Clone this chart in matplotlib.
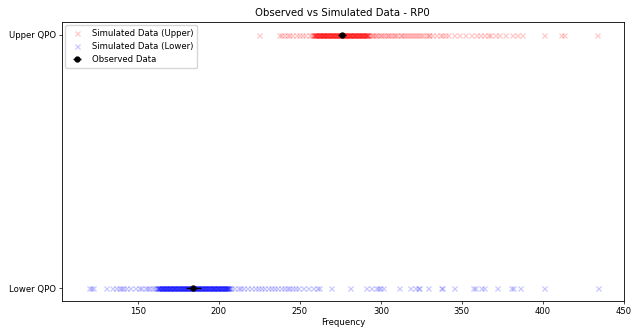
import matplotlib
matplotlib.use('Agg')
import matplotlib.pyplot as plt

plt.rcParams['font.size'] = 6.1
plt.rcParams['axes.linewidth'] = 0.6
plt.rcParams['xtick.major.size'] = 2.2
plt.rcParams['ytick.major.size'] = 2.2
plt.rcParams['xtick.major.width'] = 0.5
plt.rcParams['ytick.major.width'] = 0.5
plt.rcParams['xtick.major.pad'] = 2.0
plt.rcParams['ytick.major.pad'] = 2.2

# simulated frequencies, upper QPO
upper_sim = [
    224.4, 237.0, 238.5, 240.2, 241.8, 243.5, 245.0, 247.6, 249.6, 251.0,
    253.2, 255.7, 256.8, 257.9,
    258.5, 259.0, 259.5, 260.0, 260.5, 261.0, 261.5, 262.0, 262.5, 263.0,
    263.5, 264.0, 264.5, 265.0, 265.5, 266.0, 266.5, 267.0, 267.5, 268.0,
    268.5, 269.0, 269.5, 270.0, 270.5, 271.0, 271.5, 272.0, 272.5, 273.0,
    273.5, 274.0, 274.5, 275.0, 275.5, 276.0, 276.5, 277.0, 277.5, 278.0,
    278.5, 279.0, 279.5, 280.0, 280.5, 281.0, 281.5, 282.0, 282.5, 283.0,
    283.5, 284.0, 284.5, 285.0, 285.5, 286.0, 286.5, 287.0, 287.5, 288.0,
    288.5, 289.0, 289.5, 290.0, 290.5, 291.0, 291.5, 292.0,
    258.7, 259.8, 260.9, 262.1, 263.2, 264.4, 265.7, 266.8, 268.1, 269.3,
    270.6, 271.8, 273.1, 274.3, 275.6, 276.8, 278.1, 279.3, 280.6, 281.8,
    283.1, 284.3, 285.6, 286.8, 288.1, 289.3, 290.6, 291.4,
    258.3, 259.2, 260.2, 261.3, 262.3, 263.4, 264.2, 265.2, 266.3, 267.3,
    268.3, 269.2, 270.3, 271.2, 272.3, 273.3, 274.2, 275.3, 276.3, 277.3,
    278.3, 279.2, 280.3, 281.2, 282.3, 283.3, 284.2, 285.3, 286.2, 287.3,
    288.3, 289.2, 290.3, 291.2,
    292.8, 293.6, 294.5, 295.4, 296.3, 297.1, 298.0, 299.2, 300.1, 301.0,
    302.3, 303.5, 304.6, 305.4, 306.7, 307.9, 309.0, 310.2, 311.5, 312.6,
    313.8, 315.1, 316.3, 317.4, 318.6, 319.9, 321.2, 322.5, 323.7, 325.0,
    326.3, 327.6, 328.9, 329.8,
    331.5, 334.0, 336.2, 337.8, 339.5, 341.6, 345.0, 348.3, 352.0, 355.6,
    359.0, 361.2, 363.5, 366.0, 367.4, 370.2, 373.0, 376.5, 381.0, 384.0,
    387.0, 401.0, 411.0, 413.0, 433.5,
]

# simulated frequencies, lower QPO
lower_sim = [
    119.5, 121.0, 122.4, 130.5, 134.0, 136.5, 138.0, 139.5, 141.0, 142.5,
    145.0, 148.0, 150.5, 152.0, 154.0, 155.5, 157.0, 158.5, 160.0, 161.0,
    162.0, 162.5, 163.0, 163.5, 164.0, 164.5, 165.0, 165.5, 166.0, 166.5,
    167.0, 167.5, 168.0, 168.5, 169.0, 169.5, 170.0, 170.5, 171.0, 171.5,
    172.0, 172.5, 173.0, 173.5, 174.0, 174.5, 175.0, 175.5, 176.0, 176.5,
    177.0, 177.5, 178.0, 178.5, 179.0, 179.5, 180.0, 180.5, 181.0, 181.5,
    182.0, 182.5, 183.0, 183.5, 184.0, 184.5, 185.0, 185.5, 186.0, 186.5,
    187.0, 187.5, 188.0, 188.5, 189.0, 189.5, 190.0, 190.5, 191.0, 191.5,
    192.0, 192.5, 193.0, 193.5, 194.0, 194.5, 195.0, 195.5, 196.0, 196.5,
    197.0, 197.5, 198.0, 198.5, 199.0, 199.5, 200.0, 200.5, 201.0, 201.5,
    202.0, 202.5, 203.0, 203.5, 204.0, 204.5, 205.0, 205.5, 206.0,
    162.3, 163.6, 164.8, 166.1, 167.3, 168.6, 169.8, 171.1, 172.3, 173.6,
    174.8, 176.1, 177.3, 178.6, 179.8, 181.1, 182.3, 183.6, 184.8, 186.1,
    187.3, 188.6, 189.8, 191.1, 192.3, 193.6, 194.8, 196.1, 197.3, 198.6,
    199.8, 201.1, 202.3, 203.6, 204.8, 205.7,
    162.2, 163.2, 164.2, 165.3, 166.3, 167.2, 168.3, 169.3, 170.2, 171.3,
    172.2, 173.3, 174.3, 175.2, 176.3, 177.2, 178.3, 179.3, 180.2, 181.3,
    182.2, 183.3, 184.3, 185.2, 186.3, 187.2, 188.3, 189.3, 190.2, 191.3,
    192.2, 193.3, 194.3, 195.2, 196.3, 197.2, 198.3, 199.3, 200.2, 201.3,
    202.2, 203.3, 204.3, 205.2, 206.3,
    207.5, 209.0, 211.5, 213.0, 215.0, 217.0, 219.5, 222.0, 224.0, 226.0,
    228.0, 230.0, 232.0, 234.0, 236.0, 238.0, 240.0, 242.0, 243.5, 245.0,
    247.0, 249.0, 252.0, 255.0, 258.0, 260.5, 261.5,
    269.0, 281.0, 291.0, 294.0, 297.0, 298.5, 299.5, 301.0, 311.0, 318.0,
    321.0, 323.0, 323.5, 329.0, 337.0, 338.0, 345.0, 357.0, 358.0, 362.0,
    363.5, 372.0, 380.5, 381.5, 386.0, 401.0, 434.0,
]

# observed values and errors
obs_freq = [184.2, 275.8]
obs_err = [4.6, 2.5]
obs_level = [0, 1]

qpo_labels = ['Lower QPO', 'Upper QPO']

fig, ax = plt.subplots(figsize=(6.32, 3.27), dpi=100)
fig.subplots_adjust(left=0.098, right=0.987, top=0.933, bottom=0.08)

ax.plot(upper_sim, [1] * len(upper_sim), 'x', color='red', alpha=0.22,
        markersize=3.6, markeredgewidth=0.9, label='Simulated Data (Upper)')
ax.plot(lower_sim, [0] * len(lower_sim), 'x', color='blue', alpha=0.22,
        markersize=3.6, markeredgewidth=0.9, label='Simulated Data (Lower)')
ax.errorbar(obs_freq, obs_level, xerr=obs_err, fmt='o', color='black',
            markersize=3.5, elinewidth=1.0, label='Observed Data')

ax.set_yticks([0, 1])
ax.set_yticklabels(qpo_labels)
ax.set_xlim(103, 450)
ax.set_ylim(-0.05, 1.05)
ax.set_xlabel('Frequency', labelpad=1.5)
ax.set_title('Observed vs Simulated Data - RP0', pad=4)
ax.legend(loc='upper left', borderaxespad=0.4)

fig.savefig('out.png', dpi=100)
